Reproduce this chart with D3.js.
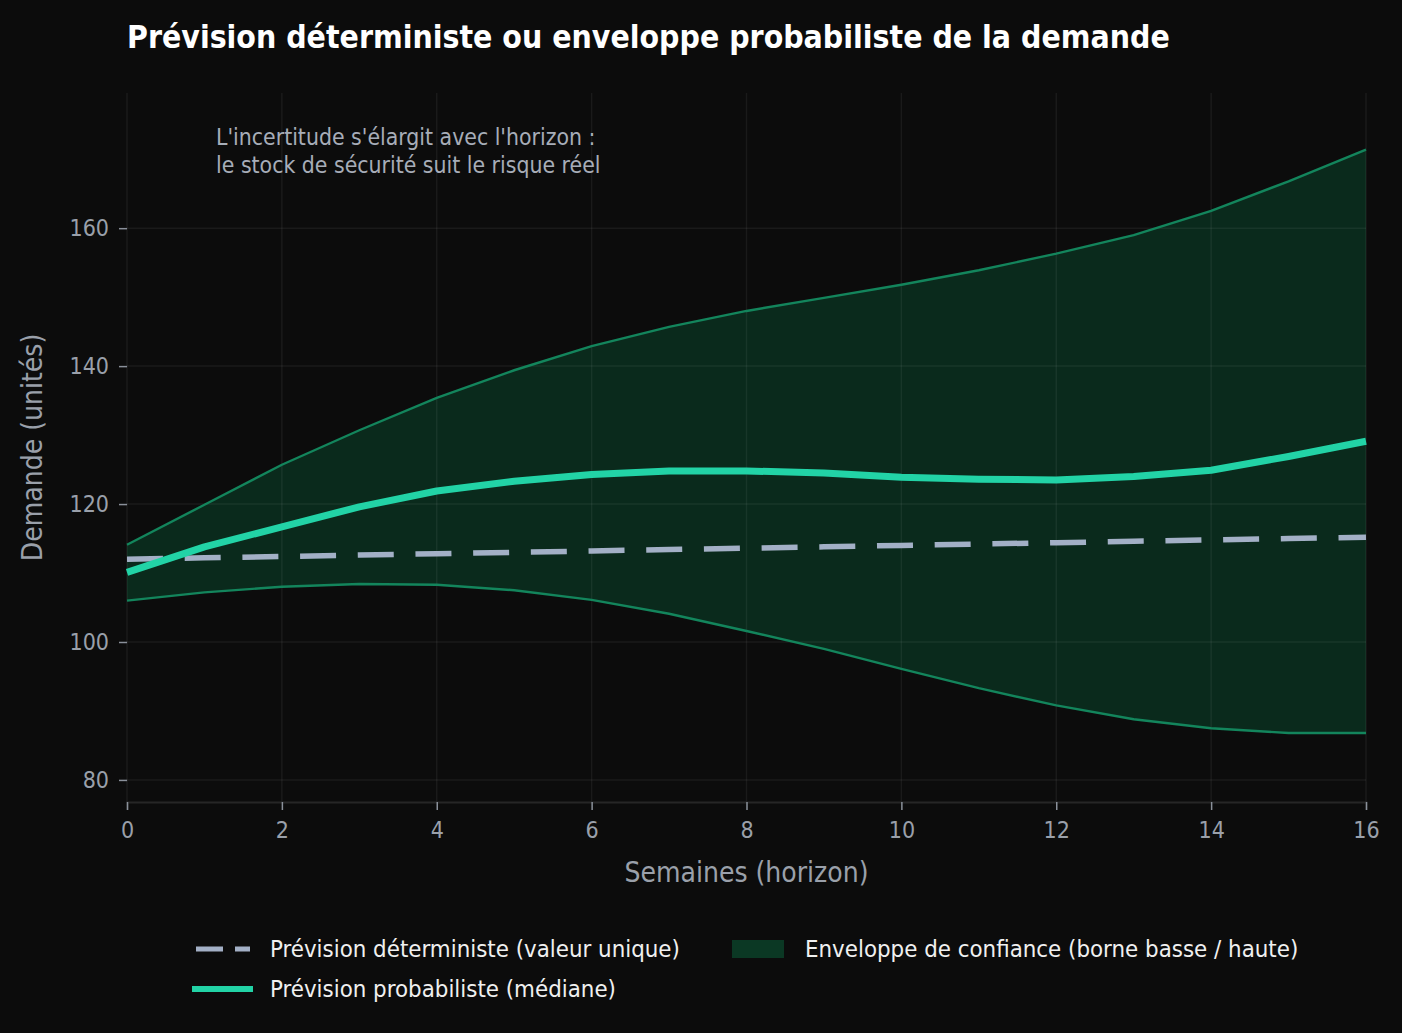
<!DOCTYPE html>
<meta charset="utf-8">
<style>
  body { margin: 0; background: #0c0c0c; }
  svg text { font-family: "DejaVu Sans Condensed", "Liberation Sans Narrow", "Noto Sans", sans-serif; }
</style>
<body>
<div id="chart"></div>
<script src="https://d3js.org/d3.v7.min.js"></script>
<script>
  // semaines d'horizon
  var weeks = [0, 1, 2, 3, 4, 5, 6, 7, 8, 9, 10, 11, 12, 13, 14, 15, 16];
  // prévision déterministe (valeur unique)
  var deterministic = [112.0, 112.2, 112.4, 112.6, 112.8, 113.0, 113.2, 113.4, 113.6, 113.8, 114.0, 114.2, 114.4, 114.6, 114.8, 115.0, 115.2];
  // médiane probabiliste
  var median = [110.1, 113.8, 116.7, 119.6, 121.9, 123.3, 124.3, 124.8, 124.8, 124.5, 123.9, 123.6, 123.5, 124.0, 124.9, 126.9, 129.1];
  // enveloppe basse / haute
  var lower = [106.0, 107.2, 108.0, 108.4, 108.3, 107.5, 106.1, 104.1, 101.6, 99.0, 96.1, 93.3, 90.8, 88.8, 87.5, 86.8, 86.8];
  var upper = [114.1, 119.9, 125.7, 130.7, 135.4, 139.4, 142.9, 145.7, 148.0, 149.9, 151.8, 153.9, 156.3, 159.0, 162.5, 166.8, 171.4];

  var xTicks = [0, 2, 4, 6, 8, 10, 12, 14, 16];
  var yTicks = [80, 100, 120, 140, 160];

  var W = 1402, H = 1033;
  var margin = {top: 93, right: 36, bottom: 231, left: 127};
  var iw = W - margin.left - margin.right;
  var ih = H - margin.top - margin.bottom;

  var svg = d3.select("#chart").append("svg")
    .attr("width", W).attr("height", H)
    .style("background", "#0c0c0c");

  svg.append("text")
    .attr("x", 127).attr("y", 48)
    .attr("fill", "#ffffff")
    .attr("font-size", 31.7).attr("font-weight", "bold")
    .text("Prévision déterministe ou enveloppe probabiliste de la demande");

  var g = svg.append("g")
    .attr("transform", "translate(" + margin.left + "," + margin.top + ")");

  var x = d3.scaleLinear().domain([0, 16]).range([0, iw]);
  var y = d3.scaleLinear().domain([76.8, 179.6]).range([ih, 0]);

  var rows = weeks.map(function(w, i) {
    return {w: w, det: deterministic[i], med: median[i], lo: lower[i], hi: upper[i]};
  });

  // enveloppe
  g.append("path")
    .datum(rows)
    .attr("fill", "#0a2a1c")
    .attr("d", d3.area()
      .x(function(d) { return x(d.w); })
      .y0(function(d) { return y(d.lo); })
      .y1(function(d) { return y(d.hi); }));

  // grille
  g.selectAll("line.gx").data(xTicks).enter().append("line")
    .attr("x1", function(d) { return x(d); }).attr("x2", function(d) { return x(d); })
    .attr("y1", 0).attr("y2", ih)
    .attr("stroke", "#ffffff").attr("stroke-opacity", 0.06).attr("stroke-width", 1.5);
  g.selectAll("line.gy").data(yTicks).enter().append("line")
    .attr("x1", 0).attr("x2", iw)
    .attr("y1", function(d) { return y(d); }).attr("y2", function(d) { return y(d); })
    .attr("stroke", "#ffffff").attr("stroke-opacity", 0.06).attr("stroke-width", 1.5);

  // bords de l'enveloppe
  ["lo", "hi"].forEach(function(k) {
    g.append("path")
      .datum(rows)
      .attr("fill", "none")
      .attr("stroke", "#13855c")
      .attr("stroke-width", 2.4)
      .attr("d", d3.line()
        .x(function(d) { return x(d.w); })
        .y(function(d) { return y(d[k]); }));
  });

  g.append("path")
    .datum(rows)
    .attr("fill", "none")
    .attr("stroke", "#a3b0c6")
    .attr("stroke-width", 5.5)
    .attr("stroke-dasharray", "36,21.7")
    .attr("d", d3.line()
      .x(function(d) { return x(d.w); })
      .y(function(d) { return y(d.det); }));

  g.append("path")
    .datum(rows)
    .attr("fill", "none")
    .attr("stroke", "#22d3a6")
    .attr("stroke-width", 7)
    .attr("stroke-linejoin", "round")
    .attr("d", d3.line()
      .x(function(d) { return x(d.w); })
      .y(function(d) { return y(d.med); }));

  // axes
  var xAxis = g.append("g")
    .attr("transform", "translate(0," + ih + ")")
    .call(d3.axisBottom(x).tickValues(xTicks).tickSize(8).tickPadding(12).tickFormat(d3.format("d")));
  var yAxis = g.append("g")
    .call(d3.axisLeft(y).tickValues(yTicks).tickSize(8).tickPadding(10).tickFormat(d3.format("d")));
  [xAxis, yAxis].forEach(function(a) {
    a.select(".domain").attr("stroke", "#262626").attr("stroke-width", 2);
    a.selectAll(".tick line").attr("stroke", "#8a909a").attr("stroke-width", 1.5);
    a.selectAll(".tick text").attr("fill", "#9aa0aa").attr("font-size", 23);
  });
  yAxis.select(".domain").remove();

  g.append("text")
    .attr("x", iw / 2).attr("y", ih + 80)
    .attr("text-anchor", "middle")
    .attr("fill", "#9aa0aa").attr("font-size", 28)
    .text("Semaines (horizon)");

  g.append("text")
    .attr("transform", "translate(" + (-85) + "," + (ih / 2) + ") rotate(-90)")
    .attr("text-anchor", "middle")
    .attr("fill", "#9aa0aa").attr("font-size", 28)
    .text("Demande (unités)");

  // annotation
  var note = g.append("text")
    .attr("x", x(1.15)).attr("y", 52)
    .attr("fill", "#a7adb8").attr("font-size", 22.8);
  note.append("tspan").attr("x", x(1.15)).attr("dy", 0).text("L'incertitude s'élargit avec l'horizon :");
  note.append("tspan").attr("x", x(1.15)).attr("dy", 28).text("le stock de sécurité suit le risque réel");

  // légende
  var leg = svg.append("g");
  leg.append("line")
    .attr("x1", 196).attr("x2", 250).attr("y1", 949).attr("y2", 949)
    .attr("stroke", "#a3b0c6").attr("stroke-width", 5).attr("stroke-dasharray", "27,12");
  leg.append("line")
    .attr("x1", 192).attr("x2", 253).attr("y1", 989).attr("y2", 989)
    .attr("stroke", "#22d3a6").attr("stroke-width", 6);
  leg.append("rect")
    .attr("x", 732).attr("y", 940).attr("width", 52).attr("height", 18)
    .attr("fill", "#0b3824");
  var legItems = [
    {x: 270, y: 949, t: "Prévision déterministe (valeur unique)"},
    {x: 270, y: 989, t: "Prévision probabiliste (médiane)"},
    {x: 805, y: 949, t: "Enveloppe de confiance (borne basse / haute)"}
  ];
  leg.selectAll("text").data(legItems).enter().append("text")
    .attr("x", function(d) { return d.x; })
    .attr("y", function(d) { return d.y; })
    .attr("dy", "0.35em")
    .attr("fill", "#f0f0f0").attr("font-size", 23.8)
    .text(function(d) { return d.t; });
</script>
</body>
</html>
